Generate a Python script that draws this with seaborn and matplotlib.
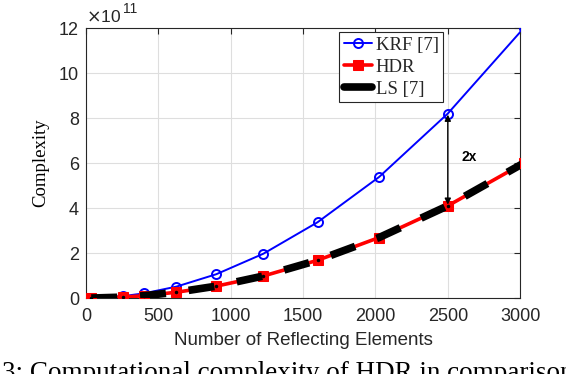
import matplotlib
matplotlib.use("Agg")
import matplotlib.pyplot as plt
import pandas
import seaborn

# number of reflecting elements at the marker points (last one lies just past the axis)
N_ELEMENTS = [36, 256, 400, 625, 900, 1225, 1600, 2025, 2500, 3025]
# complexity in units of 1e11
KRF_VALUES = [0.002, 0.086, 0.21, 0.51, 1.06, 1.97, 3.37, 5.38, 8.2, 12.0]
HDR_VALUES = [0.001, 0.043, 0.105, 0.26, 0.53, 0.98, 1.68, 2.69, 4.1, 6.0]
LS_VALUES = [0.001, 0.043, 0.105, 0.26, 0.53, 0.98, 1.68, 2.69, 4.1, 6.0]
SERIES_NAMES = ["KRF [7]", "HDR", "LS [7]"]

X_TICKS = [0, 500, 1000, 1500, 2000, 2500, 3000]
Y_TICKS = [0, 2, 4, 6, 8, 10, 12]

ARROW_X = 2500
ARROW_TOP = 8.2
ARROW_BOTTOM = 4.1

AX_COLOR = "#262626"
SANS = ["Liberation Sans", "DejaVu Sans"]
SERIF = ["Liberation Serif", "DejaVu Serif"]


def draw_graph():
    seaborn.set_style("white")
    plt.rcParams["font.family"] = SANS

    df = pandas.DataFrame({"N": N_ELEMENTS, "KRF": KRF_VALUES,
                           "HDR": HDR_VALUES, "LS": LS_VALUES})

    fig = plt.figure(figsize=(5.66, 3.74), dpi=100)
    ax = fig.add_axes([0.152, 0.203, 0.767, 0.722])

    seaborn.lineplot(x="N", y="KRF", data=df, ax=ax, color="blue",
                     linewidth=1.4, marker="o", markersize=6.5,
                     markerfacecolor="none", markeredgecolor="blue",
                     markeredgewidth=1.4, label=SERIES_NAMES[0], zorder=3)
    seaborn.lineplot(x="N", y="HDR", data=df, ax=ax, color="red",
                     linewidth=2.6, marker="s", markersize=6.5,
                     markerfacecolor="red", markeredgecolor="red",
                     label=SERIES_NAMES[1], zorder=4)
    seaborn.lineplot(x="N", y="LS", data=df, ax=ax, color="black",
                     linewidth=5.5, dashes=False, label=SERIES_NAMES[2],
                     zorder=5)
    # make the LS line dashed like the original
    ls_line = ax.get_lines()[-1]
    ls_line.set_dashes((3.4, 3.0))
    ls_line.set_dash_capstyle("butt")
    ax.plot(df["N"], df["LS"], linestyle="none", marker=".", markersize=3,
            color="black", zorder=6)

    ax.set_xlim(0, 3000)
    ax.set_ylim(0, 12)
    ax.set_xticks(X_TICKS)
    ax.set_yticks(Y_TICKS)
    ax.grid(True, color="#dedede", linewidth=0.8)
    ax.set_axisbelow(True)
    ax.tick_params(direction="in", length=4, width=0.8, top=True, right=True,
                   labelsize=13, colors=AX_COLOR)
    ax.tick_params(axis="x", pad=7)
    ax.tick_params(axis="y", pad=5)
    for spine in ax.spines.values():
        spine.set_color(AX_COLOR)
        spine.set_linewidth(0.8)

    ax.set_xlabel("Number of Reflecting Elements", fontsize=13.5,
                  color=AX_COLOR, labelpad=5)
    ax.set_ylabel("Complexity", fontsize=13.5, family=SERIF, color="black",
                  labelpad=7)

    ax.text(0.0, 1.012, r"$\times$10", transform=ax.transAxes, fontsize=12.5,
            color=AX_COLOR, ha="left", va="bottom")
    ax.text(0.085, 1.045, "11", transform=ax.transAxes, fontsize=10,
            color=AX_COLOR, ha="left", va="bottom")

    # double arrow showing the 2x gap
    ax.annotate("", xy=(ARROW_X, ARROW_TOP - 0.05), xytext=(ARROW_X, ARROW_BOTTOM + 0.05),
                arrowprops=dict(arrowstyle="<|-|>", color="black", lw=1.0,
                                mutation_scale=9, shrinkA=0, shrinkB=0),
                zorder=7)
    ax.text(ARROW_X + 95, 6.27, "2x", fontsize=10, fontweight="bold",
            ha="left", va="center", color="black")

    handles, labels = ax.get_legend_handles_labels()
    handles = handles[:3]
    leg = ax.legend(handles, SERIES_NAMES, loc="upper left",
                    bbox_to_anchor=(0.583, 0.985), prop={"family": SERIF, "size": 13.5},
                    frameon=True, fancybox=False, framealpha=1,
                    edgecolor=AX_COLOR, handlelength=1.5, handletextpad=0.2,
                    borderpad=0.25, labelspacing=0.25, borderaxespad=0)
    leg.get_frame().set_linewidth(0.8)
    for line in leg.get_lines():
        if line.get_color() == "black":
            line.set_linestyle("-")

    # figure caption, cut by the bottom edge as in the source
    fig.text(0.004, -0.016, "3: Computational complexity of HDR in comparison with",
             fontsize=19.5, family=SERIF, ha="left", va="baseline", color="black")

    fig.savefig("out.png", dpi=100)


draw_graph()
